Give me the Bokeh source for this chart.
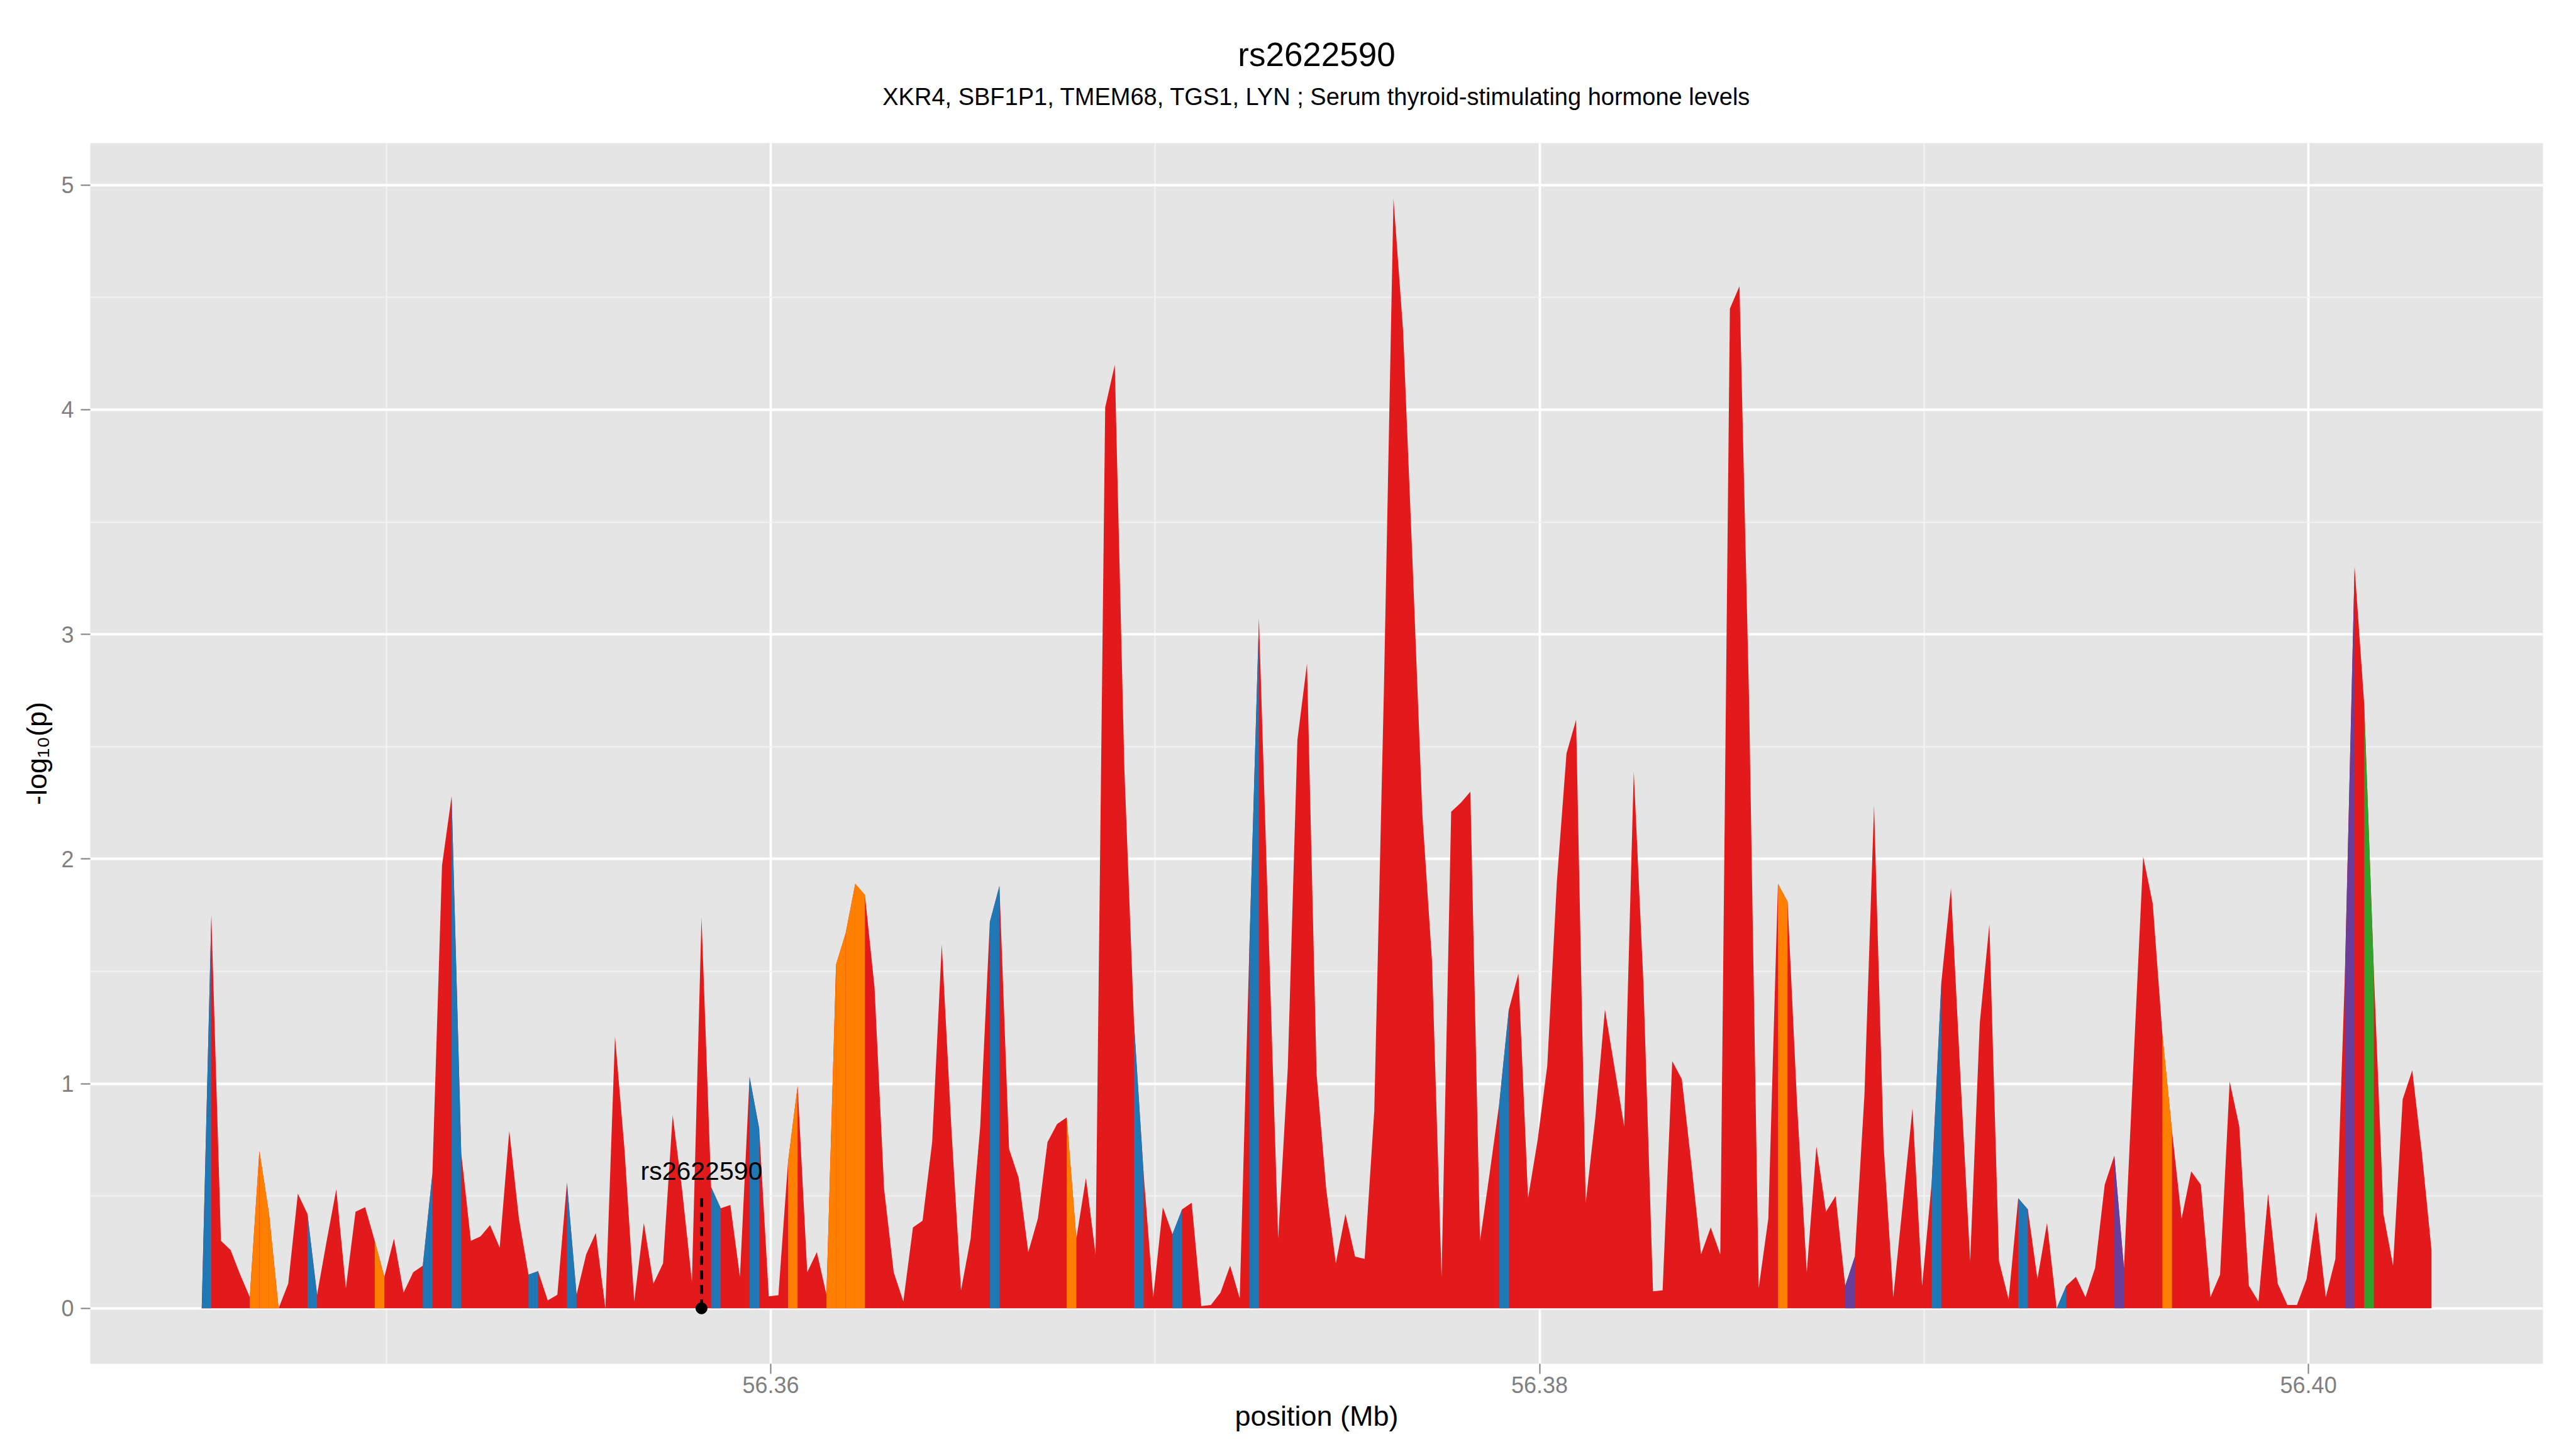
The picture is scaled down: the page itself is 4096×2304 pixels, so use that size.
from bokeh.plotting import figure
from bokeh.models import Range1d, FixedTicker, PrintfTickFormatter, Label, LinearAxis
from bokeh.embed import file_html
from bokeh.resources import INLINE

FONT = "Liberation Sans"

# SNP positions (bp)
pos_bp = [
    56345200, 56345450, 56345700, 56345950, 56346200, 56346450, 56346700, 56346950, 56347200, 56347450,
    56347700, 56347950, 56348200, 56348450, 56348700, 56348950, 56349200, 56349450, 56349700, 56349950,
    56350200, 56350450, 56350700, 56350950, 56351200, 56351450, 56351700, 56351950, 56352200, 56352450,
    56352700, 56352950, 56353200, 56353450, 56353700, 56353950, 56354200, 56354450, 56354700, 56354950,
    56355200, 56355450, 56355700, 56355950, 56356200, 56356450, 56356700, 56356950, 56357200, 56357450,
    56357700, 56357950, 56358200, 56358450, 56358700, 56358950, 56359200, 56359450, 56359700, 56359950,
    56360200, 56360450, 56360700, 56360950, 56361200, 56361450, 56361700, 56361950, 56362200, 56362450,
    56362700, 56362950, 56363200, 56363450, 56363700, 56363950, 56364200, 56364450, 56364700, 56364950,
    56365200, 56365450, 56365700, 56365950, 56366200, 56366450, 56366700, 56366950, 56367200, 56367450,
    56367700, 56367950, 56368200, 56368450, 56368700, 56368950, 56369200, 56369450, 56369700, 56369950,
    56370200, 56370450, 56370700, 56370950, 56371200, 56371450, 56371700, 56371950, 56372200, 56372450,
    56372700, 56372950, 56373200, 56373450, 56373700, 56373950, 56374200, 56374450, 56374700, 56374950,
    56375200, 56375450, 56375700, 56375950, 56376200, 56376450, 56376700, 56376950, 56377200, 56377450,
    56377700, 56377950, 56378200, 56378450, 56378700, 56378950, 56379200, 56379450, 56379700, 56379950,
    56380200, 56380450, 56380700, 56380950, 56381200, 56381450, 56381700, 56381950, 56382200, 56382450,
    56382700, 56382950, 56383200, 56383450, 56383700, 56383950, 56384200, 56384450, 56384700, 56384950,
    56385200, 56385450, 56385700, 56385950, 56386200, 56386450, 56386700, 56386950, 56387200, 56387450,
    56387700, 56387950, 56388200, 56388450, 56388700, 56388950, 56389200, 56389450, 56389700, 56389950,
    56390200, 56390450, 56390700, 56390950, 56391200, 56391450, 56391700, 56391950, 56392200, 56392450,
    56392700, 56392950, 56393200, 56393450, 56393700, 56393950, 56394200, 56394450, 56394700, 56394950,
    56395200, 56395450, 56395700, 56395950, 56396200, 56396450, 56396700, 56396950, 56397200, 56397450,
    56397700, 56397950, 56398200, 56398450, 56398700, 56398950, 56399200, 56399450, 56399700, 56399950,
    56400200, 56400450, 56400700, 56400950, 56401200, 56401450, 56401700, 56401950, 56402200, 56402450,
    56402700, 56402950, 56403200,
]

# -log10(p) at each position
logp = [
    0.00, 1.75, 0.30, 0.26, 0.15, 0.05, 0.70, 0.42, 0.00, 0.11,
    0.51, 0.42, 0.06, 0.30, 0.53, 0.09, 0.43, 0.45, 0.30, 0.14,
    0.31, 0.07, 0.16, 0.19, 0.60, 1.97, 2.28, 0.69, 0.30, 0.32,
    0.37, 0.27, 0.79, 0.40, 0.15, 0.165, 0.035, 0.06, 0.56, 0.06,
    0.24, 0.335, 0.00, 1.21, 0.70, 0.03, 0.38, 0.11, 0.20, 0.86,
    0.52, 0.12, 1.74, 0.54, 0.445, 0.46, 0.14, 1.03, 0.80, 0.053,
    0.058, 0.65, 0.99, 0.16, 0.25, 0.06, 1.53, 1.67, 1.89, 1.84,
    1.43, 0.53, 0.16, 0.03, 0.36, 0.39, 0.74, 1.62, 0.80, 0.08,
    0.31, 0.81, 1.72, 1.88, 0.71, 0.58, 0.25, 0.40, 0.74, 0.82,
    0.85, 0.31, 0.58, 0.24, 4.01, 4.20, 2.40, 1.27, 0.60, 0.05,
    0.45, 0.33, 0.44, 0.47, 0.01, 0.015, 0.07, 0.19, 0.045, 1.60,
    3.07, 1.68, 0.31, 1.07, 2.53, 2.87, 1.04, 0.53, 0.20, 0.42,
    0.23, 0.22, 0.88, 2.75, 4.94, 4.35, 3.30, 2.20, 1.55, 0.14,
    2.21, 2.25, 2.30, 0.30, 0.60, 0.91, 1.33, 1.49, 0.49, 0.75,
    1.08, 1.90, 2.47, 2.62, 0.47, 0.85, 1.33, 1.07, 0.81, 2.39,
    1.45, 0.076, 0.08, 1.10, 1.02, 0.64, 0.24, 0.36, 0.24, 4.45,
    4.55, 2.70, 0.09, 0.40, 1.89, 1.81, 0.90, 0.16, 0.72, 0.43,
    0.50, 0.10, 0.23, 0.95, 2.24, 0.72, 0.05, 0.47, 0.89, 0.10,
    0.56, 1.45, 1.87, 1.02, 0.21, 1.27, 1.71, 0.21, 0.04, 0.49,
    0.44, 0.13, 0.38, 0.00, 0.10, 0.14, 0.05, 0.18, 0.55, 0.68,
    0.18, 1.10, 2.01, 1.80, 1.22, 0.79, 0.40, 0.61, 0.55, 0.05,
    0.15, 1.01, 0.81, 0.10, 0.03, 0.51, 0.11, 0.015, 0.015, 0.13,
    0.43, 0.05, 0.22, 1.50, 3.30, 2.69, 1.50, 0.42, 0.19, 0.93,
    1.06, 0.69, 0.26,
]

# LD class of each stretch between consecutive SNPs
seg_ld = list(
    "brrrrooorrrbrrrrrror"
    "rrrbrrbrrrrrrrbrrrbr"
    "rrrrrrrrrrrrrbrrrbrr"
    "rorrroooorrrrrrrrrrr"
    "rrbrrrrrrrorrrrrrbrr"
    "rbrrrrrrrbrrrrrrrrrr"
    "rrrrrrrrrrrrrrrbrrrr"
    "rrrrrrrrrrrrrrrrrrrr"
    "rrrrorrrrrrprrrrrrrr"
    "brrrrrrrrbrrrbrrrrrp"
    "rrrrorrrrrrrrrrrrrrr"
    "rrrprgrrrrrr"
)
ld_classes = ["r", "o", "g", "b", "p"]
ld_colors = ["#E31A1C", "#FF7F00", "#33A02C", "#1F78B4", "#6A3D9A"]

lead_snp = "rs2622590"
lead_pos_bp = 56358200
lead_label_y = 0.61
lead_line_top = 0.49

title_text = "rs2622590"
subtitle_text = "XKR4, SBF1P1, TMEM68, TGS1, LYN ; Serum thyroid-stimulating hormone levels"
x_ticks = [56.36, 56.38, 56.40]
x_minor = [56.35, 56.37, 56.39]
y_ticks = [0, 1, 2, 3, 4, 5]
y_minor = [0.5, 1.5, 2.5, 3.5, 4.5]

x = [b / 1e6 for b in pos_bp]
cmap = dict(zip(ld_classes, ld_colors))

xmin, xmax = min(x), max(x)
dx = (xmax - xmin) * 0.05
ymax = max(logp)
dy = ymax * 0.05

p = figure(
    frame_width=3900, frame_height=1941,
    min_border_left=143, min_border_right=37, min_border_top=227, min_border_bottom=120,
    x_range=Range1d(xmin - dx, xmax + dx), y_range=Range1d(-dy, ymax + dy),
    output_backend="svg", toolbar_location=None, title=None,
    background_fill_color="#E5E5E5", border_fill_color="white",
)
p.outline_line_color = None

# base area (red) under the whole curve
p.varea(x=x, y1=[0] * len(x), y2=logp, fill_color=cmap["r"], fill_alpha=1.0)

# coloured stretches
xs, ys, cs = [], [], []
for i, c in enumerate(seg_ld):
    if c == "r":
        continue
    xs.append([x[i], x[i], x[i + 1], x[i + 1]])
    ys.append([0, logp[i], logp[i + 1], 0])
    cs.append(cmap[c])
p.patches(xs=xs, ys=ys, fill_color=cs, line_color=None, fill_alpha=1.0)

# lead SNP marker
lx = lead_pos_bp / 1e6
p.segment(x0=[lx], y0=[0], x1=[lx], y1=[lead_line_top], line_color="black",
          line_width=5, line_dash="14 9")
p.scatter(x=[lx], y=[0], size=18, fill_color="black", line_color="black")
p.add_layout(Label(x=lx, y=lead_label_y, text=lead_snp, text_align="center",
                   text_baseline="alphabetic", text_font=FONT, text_font_size="41px",
                   text_color="black"))

# axes
xt = FixedTicker(ticks=x_ticks, minor_ticks=x_minor)
yt = FixedTicker(ticks=y_ticks, minor_ticks=y_minor)
p.xaxis.ticker = xt
p.yaxis.ticker = yt
p.xaxis.formatter = PrintfTickFormatter(format="%.2f")
for ax in (p.xaxis[0], p.yaxis[0]):
    ax.axis_line_color = None
    ax.major_tick_line_color = "#7F7F7F"
    ax.major_tick_line_width = 2
    ax.major_tick_in = 0
    ax.minor_tick_line_color = None
    ax.major_label_text_color = "#7F7F7F"
    ax.major_label_text_font = FONT
    ax.major_label_text_font_size = "36px"
    ax.axis_label_text_font = FONT
    ax.axis_label_text_font_size = "45px"
    ax.axis_label_text_font_style = "normal"
    ax.axis_label_text_color = "black"
p.xaxis.major_tick_out = 16
p.yaxis.major_tick_out = 15
p.xaxis.major_label_standoff = 4
p.yaxis.major_label_standoff = 11
p.xaxis.axis_label = "position (Mb)"
p.yaxis.axis_label = "-log\u2081\u2080(p)"
p.xaxis.axis_label_standoff = 8
p.yaxis.axis_label_standoff = 10

for g in (p.xgrid[0], p.ygrid[0]):
    g.grid_line_color = "white"
    g.grid_line_width = 3.8
    g.minor_grid_line_color = "#F2F2F2"
    g.minor_grid_line_width = 2.2
p.xgrid.ticker = xt
p.ygrid.ticker = yt


# title and subtitle as labels of tick-less axes above the panel
def title_axis(text, size, standoff):
    ax = LinearAxis(ticker=FixedTicker(ticks=[]), axis_label=text,
                    axis_label_standoff=standoff, axis_label_text_font=FONT,
                    axis_label_text_font_size=size, axis_label_text_font_style="normal",
                    axis_label_text_color="black", axis_line_color=None,
                    major_tick_line_color=None, minor_tick_line_color=None,
                    major_tick_out=0, major_tick_in=0, minor_tick_out=0, minor_tick_in=0,
                    major_label_text_font_size="0px", major_label_standoff=0)
    p.add_layout(ax, "above")


title_axis(subtitle_text, "38px", 53)
title_axis(title_text, "53px", 14)

open("out.html", "w").write(file_html(p, INLINE))
